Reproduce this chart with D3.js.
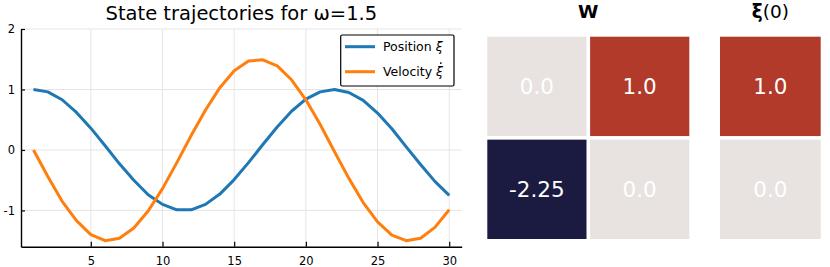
<!DOCTYPE html>
<html><head><meta charset="utf-8">
<script src="https://cdn.jsdelivr.net/npm/d3@7"></script>
<style>body{margin:0;background:#fff}svg{display:block;font-family:"DejaVu Sans",sans-serif}</style>
</head><body><svg id="c" width="830" height="267"></svg>
<script>
const steps = d3.range(1, 31);
const position = [1.00,0.96,0.83,0.62,0.36,0.07,-0.23,-0.50,-0.74,-0.90,-0.99,-0.99,-0.90,-0.73,-0.49,-0.21,0.09,0.38,0.64,0.84,0.96,1.00,0.95,0.82,0.61,0.35,0.05,-0.24,-0.52,-0.75];
const velocity = [0.00,-0.44,-0.85,-1.17,-1.40,-1.50,-1.46,-1.29,-1.01,-0.64,-0.21,0.24,0.66,1.03,1.31,1.47,1.49,1.39,1.16,0.83,0.42,-0.03,-0.47,-0.87,-1.19,-1.41,-1.50,-1.46,-1.28,-0.99];
const xTicks = [5,10,15,20,25,30];
const yTicks = [-1,0,1,2];
const W = [[0.0, 1.0],[-2.25, 0.0]];
const xi0 = [1.0, 0.0];
const cellLabels = v => (v === -2.25 ? "-2.25" : v.toFixed(1));

const svg = d3.select("#c");
const L = 21, R = 461.7, T = 29, B = 246.7;
const x = d3.scaleLinear().domain([0.13, 30.87]).range([L, R]);
const y = d3.scaleLinear().domain([-1.6, 2]).range([B, T]);

// grid
svg.append("g").selectAll("line").data(xTicks).join("line")
  .attr("x1", d => x(d)).attr("x2", d => x(d)).attr("y1", T).attr("y2", B)
  .attr("stroke", "#e5e5e5").attr("stroke-width", 1);
svg.append("g").selectAll("line").data(yTicks).join("line")
  .attr("x1", L).attr("x2", R).attr("y1", d => y(d)).attr("y2", d => y(d))
  .attr("stroke", "#e5e5e5").attr("stroke-width", 1);

// axes
const xAxis = d3.axisBottom(x).tickValues(xTicks).tickSizeInner(-5).tickSizeOuter(0).tickPadding(10).tickFormat(d => String(d));
const gx = svg.append("g").attr("transform", `translate(0,${B})`).call(xAxis);
const yAxis = d3.axisLeft(y).tickValues(yTicks).tickSizeInner(-4).tickSizeOuter(0).tickPadding(6).tickFormat(d => String(d));
const gy = svg.append("g").attr("transform", `translate(${L},0)`).call(yAxis);
[gx, gy].forEach(g => {
  g.select(".domain").attr("stroke", "#000").attr("stroke-width", 1.4);
  g.selectAll(".tick line").attr("stroke", "#000").attr("stroke-width", 1.2);
  g.selectAll(".tick text").attr("font-size", 11.5).attr("fill", "#000").attr("font-family", "DejaVu Sans");
});

// lines
const line = d3.line().x((d, i) => x(steps[i])).y(d => y(d));
svg.append("path").datum(position).attr("d", line).attr("fill", "none")
  .attr("stroke", "#1f77b4").attr("stroke-width", 3).attr("stroke-linejoin", "round");
svg.append("path").datum(velocity).attr("d", line).attr("fill", "none")
  .attr("stroke", "#ff7f0e").attr("stroke-width", 3).attr("stroke-linejoin", "round");

// title
svg.append("text").attr("x", (L + R) / 2).attr("y", 19.5).attr("text-anchor", "middle")
  .attr("font-size", 19.5).text("State trajectories for ω=1.5");

// legend
const lg = svg.append("g");
lg.append("rect").attr("x", 340.7).attr("y", 35).attr("width", 113.3).attr("height", 51)
  .attr("fill", "#fff").attr("stroke", "#000").attr("stroke-width", 1.2).attr("rx", 1.5);
const legendItems = [{c: "#1f77b4", t: "Position ", dot: false}, {c: "#ff7f0e", t: "Velocity ", dot: true}];
legendItems.forEach((d, i) => {
  const yy = 46.7 + i * 25;
  lg.append("line").attr("x1", 345).attr("x2", 375).attr("y1", yy).attr("y2", yy)
    .attr("stroke", d.c).attr("stroke-width", 3);
  const t = lg.append("text").attr("x", 383).attr("y", yy + 4.5).attr("font-size", 12.5);
  t.append("tspan").text(d.t);
  const s = t.append("tspan").attr("font-style", "italic").text("ξ");
  if (d.dot) {
    const bb = s.node().getBBox ? t.node().getBBox() : null;
    const cx = bb ? bb.x + bb.width - 3.2 : 442.7;
    lg.append("circle").attr("cx", cx).attr("cy", yy - 8.6).attr("r", 0.95).attr("fill", "#000");
  }
});

// heatmaps
const color = v => v > 0 ? "#b23a2a" : (v < 0 ? "#1b1b41" : "#e8e2e0");
const xb = d3.scaleBand().domain([0, 1]).range([487.3, 689.3]).paddingInner(0.035);
const yb = d3.scaleBand().domain([0, 1]).range([36.7, 239]).paddingInner(0.035);
const cellsW = [];
W.forEach((row, r) => row.forEach((v, c) => cellsW.push({r, c, v})));
const gw = svg.append("g");
gw.selectAll("rect").data(cellsW).join("rect")
  .attr("x", d => xb(d.c)).attr("y", d => yb(d.r)).attr("width", xb.bandwidth()).attr("height", yb.bandwidth())
  .attr("fill", d => color(d.v));
gw.selectAll("text").data(cellsW).join("text")
  .attr("x", d => xb(d.c) + xb.bandwidth() / 2).attr("y", d => yb(d.r) + yb.bandwidth() / 2 + 8)
  .attr("text-anchor", "middle").attr("fill", "#fff").attr("font-size", 21.5).text(d => cellLabels(d.v));
svg.append("text").attr("x", (487.3 + 689.3) / 2).attr("y", 18.3).attr("text-anchor", "middle")
  .attr("font-size", 18.5).attr("font-weight", "bold").text("W");

const xb2 = d3.scaleBand().domain([0]).range([720, 820.7]);
const cellsX = xi0.map((v, r) => ({r, v}));
const gx0 = svg.append("g");
gx0.selectAll("rect").data(cellsX).join("rect")
  .attr("x", xb2(0)).attr("y", d => yb(d.r)).attr("width", xb2.bandwidth()).attr("height", yb.bandwidth())
  .attr("fill", d => color(d.v));
gx0.selectAll("text").data(cellsX).join("text")
  .attr("x", xb2(0) + xb2.bandwidth() / 2).attr("y", d => yb(d.r) + yb.bandwidth() / 2 + 8)
  .attr("text-anchor", "middle").attr("fill", "#fff").attr("font-size", 21.5).text(d => cellLabels(d.v));
const tt = svg.append("text").attr("x", (720 + 820.7) / 2).attr("y", 18.3).attr("text-anchor", "middle").attr("font-size", 18.5);
tt.append("tspan").attr("font-weight", "bold").text("ξ");
tt.append("tspan").text("(0)");
</script></body></html>
